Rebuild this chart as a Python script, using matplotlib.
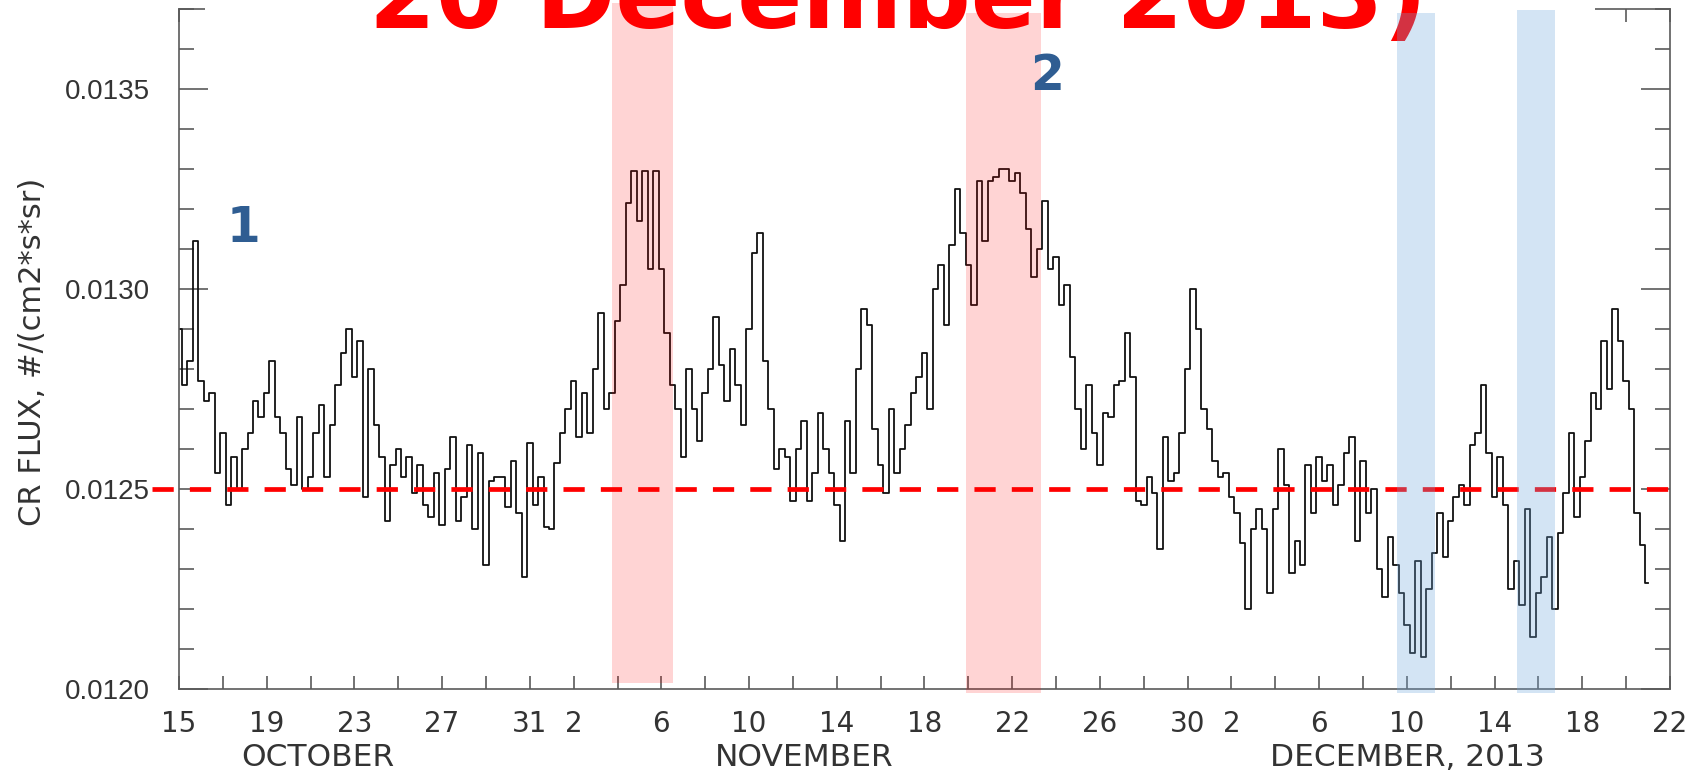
import matplotlib
matplotlib.use("Agg")
import matplotlib.pyplot as plt
import matplotlib.patches as mpatches
from matplotlib.ticker import MultipleLocator, FixedLocator
import numpy as np

# CR flux, one value every 6 hours from 15 Oct 00h (units of 1e-6)
# each row = one day
flux_e6 = [
    12900, 12760, 12820, 13120,   # Oct 15
    12770, 12720, 12740, 12540,
    12640, 12460, 12580, 12500,
    12600, 12640, 12720, 12680,
    12740, 12820, 12680, 12640,   # Oct 19
    12550, 12510, 12680, 12500,
    12530, 12640, 12710, 12530,
    12660, 12760, 12840, 12900,
    12780, 12870, 12480, 12800,   # Oct 23
    12660, 12580, 12420, 12560,
    12600, 12530, 12580, 12490,
    12560, 12460, 12430, 12540,
    12410, 12550, 12630, 12420,   # Oct 27
    12480, 12610, 12400, 12590,
    12310, 12520, 12530, 12530,
    12455, 12570, 12440, 12280,
    12615, 12460, 12530, 12405,   # Oct 31
    12400, 12565, 12640, 12700,
    12770, 12630, 12740, 12640,   # Nov 2
    12800, 12940, 12700, 12740,
    12920, 13010, 13215, 13295,   # Nov 4
    13170, 13295, 13050, 13295,
    13050, 12890, 12760, 12700,   # Nov 6
    12580, 12800, 12700, 12620,
    12740, 12800, 12930, 12810,   # Nov 8
    12720, 12850, 12760, 12660,
    12900, 13090, 13140, 12820,   # Nov 10
    12700, 12550, 12600, 12580,
    12470, 12600, 12670, 12470,   # Nov 12
    12540, 12690, 12600, 12540,
    12460, 12370, 12670, 12540,   # Nov 14
    12800, 12950, 12910, 12650,
    12560, 12490, 12700, 12540,   # Nov 16
    12600, 12660, 12740, 12780,
    12840, 12700, 13000, 13060,   # Nov 18
    12910, 13110, 13250, 13140,
    13060, 12960, 13270, 13120,   # Nov 20
    13270, 13280, 13300, 13300,
    13270, 13290, 13240, 13150,   # Nov 22
    13030, 13100, 13220, 13050,
    13080, 12960, 13010, 12830,   # Nov 24
    12700, 12600, 12760, 12640,
    12560, 12690, 12680, 12760,   # Nov 26
    12770, 12890, 12780, 12470,
    12460, 12530, 12490, 12350,   # Nov 28
    12630, 12520, 12540, 12640,
    12800, 13000, 12900, 12700,   # Nov 30
    12650, 12570, 12530, 12540,   # Dec 1
    12480, 12440, 12365, 12200,
    12400, 12450, 12400, 12240,
    12450, 12600, 12510, 12290,   # Dec 4
    12370, 12310, 12560, 12440,
    12580, 12520, 12560, 12460,   # Dec 6
    12510, 12590, 12630, 12370,
    12570, 12440, 12500, 12300,   # Dec 8
    12230, 12380, 12310, 12240,
    12160, 12090, 12320, 12080,   # Dec 10
    12250, 12340, 12440, 12330,
    12420, 12480, 12510, 12460,   # Dec 12
    12610, 12640, 12760, 12590,
    12480, 12580, 12460, 12250,   # Dec 14
    12320, 12210, 12450, 12130,
    12240, 12280, 12380, 12200,   # Dec 16
    12390, 12490, 12640, 12430,
    12530, 12620, 12740, 12700,   # Dec 18
    12870, 12750, 12950, 12870,
    12770, 12700, 12440, 12360,   # Dec 20
    12265,
]
flux = np.array(flux_e6) * 1e-6
day = np.arange(len(flux)) * 0.25        # days since 15 Oct 2013

threshold = 0.0125

# shaded intervals (days since 15 Oct)
pink_spans = [(19.77, 22.52), (35.88, 39.32)]
blue_spans = [(55.55, 57.3), (61.0, 62.75)]

# x axis labels
xlabel_days = [0, 4, 8, 12, 16, 18, 22, 26, 30, 34, 38, 42, 46, 48, 52, 56, 60, 64, 68]
xlabel_text = ["15", "19", "23", "27", "31", "2", "6", "10", "14", "18", "22", "26",
               "30", "2", "6", "10", "14", "18", "22"]
months = [("OCTOBER", 6.34), ("NOVEMBER", 28.5), ("DECEMBER, 2013", 56.04)]

W, H = 1706, 776
plt.rcParams['lines.scale_dashes'] = False
fig = plt.figure(figsize=(W / 100, H / 100), dpi=100)
ax = fig.add_axes([179 / W, 1 - 689.3 / H, (1670 - 179) / W, 680 / H])

ax.plot(day, flux, drawstyle='steps-mid', color='#111111', lw=1.3, zorder=2)
ax.plot([-1.23, 68], [threshold, threshold], color='red', lw=3.4,
        dashes=(15.3, 11.6), clip_on=False, zorder=2.1)

ax.set_xlim(0, 68)
ax.set_ylim(0.0120, 0.0137)

ax.yaxis.set_major_locator(FixedLocator([0.0120, 0.0125, 0.0130, 0.0135]))
ax.yaxis.set_minor_locator(MultipleLocator(0.0001))
ax.yaxis.set_major_formatter(plt.FuncFormatter(lambda v, p: f"{v:.4f}"))
ax.xaxis.set_minor_locator(FixedLocator([]))
ax.set_xticks(range(0, 69, 2))
ax.set_xticklabels([xlabel_text[xlabel_days.index(d)] if d in xlabel_days else ""
                    for d in range(0, 69, 2)])

spine_col = '#5a5a5a'
for s in ax.spines.values():
    s.set_color(spine_col)
    s.set_linewidth(1.2)
ax.tick_params(axis='y', which='major', direction='in', left=True, right=True,
               length=21, width=1.2, color=spine_col, labelsize=20,
               labelcolor='#333333', pad=21)
ax.tick_params(axis='y', which='minor', direction='in', left=True, right=True,
               length=10.8, width=1.2, color=spine_col)
ax.tick_params(axis='x', which='major', direction='in', top=True, bottom=True,
               length=9.4, width=1.2, color=spine_col, labelsize=20,
               labelcolor='#333333', pad=15)
for lab in ax.get_yticklabels():
    lab.set_family(['Liberation Sans', 'DejaVu Sans'])

# white strip hiding most of the top frame, as in the source figure
ax.add_patch(mpatches.Rectangle((205 / W, 1 - 25 / H), (1595 - 205) / W, 25 / H,
                                transform=fig.transFigure, facecolor='white',
                                edgecolor='none', clip_on=False, zorder=2.6))

ax.text(898.5 / W, 1 - 28.3 / H, "20 December 2013)", transform=fig.transFigure,
        ha='center', va='baseline', color='red', fontsize=69, fontweight='bold',
        clip_on=False, zorder=2.7)

ax.axvspan(*pink_spans[0], ymin=0.0088, ymax=1.0088, color='red', alpha=0.17,
           lw=0, clip_on=False, zorder=3)
ax.axvspan(*pink_spans[1], ymin=-0.005, ymax=0.995, color='red', alpha=0.17,
           lw=0, clip_on=False, zorder=3)
ax.axvspan(*blue_spans[0], ymin=-0.005, ymax=0.995, color='#6fa8dc', alpha=0.3,
           lw=0, clip_on=False, zorder=3)
ax.axvspan(*blue_spans[1], ymin=-0.005, ymax=0.999, color='#6fa8dc', alpha=0.3,
           lw=0, clip_on=False, zorder=3)

ax.text(243 / W, 1 - 241.7 / H, "1", transform=fig.transFigure, ha='center',
        va='baseline', color='#2f5d92', fontsize=35, fontweight='bold', zorder=4)
ax.text(1047 / W, 1 - 89.5 / H, "2", transform=fig.transFigure, ha='center',
        va='baseline', color='#2f5d92', fontsize=35, fontweight='bold', zorder=4)

for name, d in months:
    ax.text(d, -0.1003, name, transform=ax.get_xaxis_transform(), ha='center',
            va='center', fontsize=22.5, color='#333333', clip_on=False)

fig.text(33 / W, 1 - 351.7 / H, "CR FLUX, #/(cm2*s*sr)", rotation=90,
         ha='center', va='center', fontsize=22, color='#333333')

fig.savefig("out.png", dpi=100)
